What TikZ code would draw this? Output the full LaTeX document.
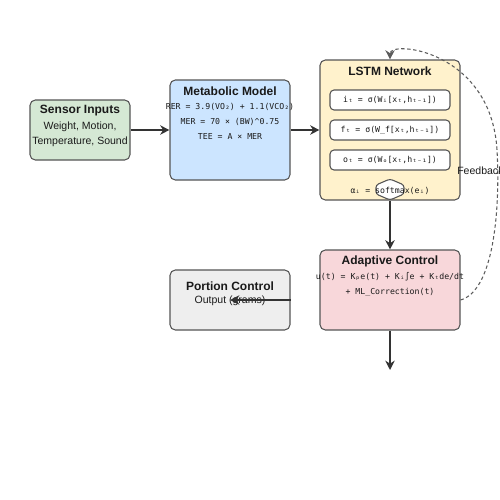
\documentclass[tikz,border=0pt]{standalone}
\usepackage{fontspec}
\setmainfont{Liberation Sans}
\newfontfamily\formfont{DejaVu Sans Mono}
\usetikzlibrary{arrows.meta,calc}

\definecolor{edgegray}{HTML}{555555}
\definecolor{arrowgray}{HTML}{333333}
\definecolor{textdark}{HTML}{1A1A1A}
\definecolor{sensorfill}{HTML}{D5E8D4}
\definecolor{metabfill}{HTML}{CCE5FF}
\definecolor{lstmfill}{HTML}{FFF2CC}
\definecolor{adaptfill}{HTML}{F8D7DA}
\definecolor{portionfill}{HTML}{EEEEEE}

\tikzset{
  block/.style={draw=edgegray, line width=0.8pt, rounded corners=4pt, inner sep=0pt},
  gate/.style={draw=edgegray, line width=0.8pt, fill=white, rounded corners=3pt, inner sep=0pt,
    minimum width=90pt, minimum height=15pt, font=\formfont\fontsize{6.15}{7}\selectfont, text=textdark},
  title/.style={font=\bfseries\fontsize{9}{10}\selectfont, text=textdark, inner sep=0pt},
  body/.style={font=\fontsize{7.9}{8.5}\selectfont, text=textdark, inner sep=0pt},
  formula/.style={font=\formfont\fontsize{6.15}{7}\selectfont, text=textdark, inner sep=0pt},
  flow/.style={->, draw=arrowgray, line width=1.1pt}
}

\begin{document}
\begin{tikzpicture}[x=0.75pt, y=-0.75pt, >={Stealth[length=7pt,width=7pt]}]
        \useasboundingbox (0,0) rectangle (500,500);

        % Draw the blocks
        \node[block, fill=sensorfill, minimum width=75pt, minimum height=45pt] (sensor) at (80,130) {};
        \node[block, fill=metabfill, minimum width=90pt, minimum height=75pt] (metab) at (230,130) {};
        \node[block, fill=lstmfill, minimum width=105pt, minimum height=105pt] (lstm) at (390,130) {};
        \node[block, fill=adaptfill, minimum width=105pt, minimum height=60pt] (adapt) at (390,290) {};
        \node[block, fill=portionfill, minimum width=90pt, minimum height=45pt] (portion) at (230,300) {};

        % Sensor text
        \node[title] (sensortitle) at (80,111) {Sensor Inputs};
        \node[body] (sensorone) at (80,127) {Weight, Motion,};
        \node[body] (sensortwo) at (80,142) {Temperature, Sound};

        % Metabolic text
        \node[title] (metabtitle) at (230,91) {Metabolic Model};
        \node[formula] (rer) at (230,107) {RER = 3.9(VO₂) + 1.1(VCO₂)};
        \node[formula] (mer) at (230,122) {MER = 70 × (BW)\^{}0.75};
        \node[formula] (tee) at (230,137) {TEE = A × MER};

        % LSTM text and gates
        \node[title] (lstmtitle) at (390,71) {LSTM Network};
        \node[gate] (igate) at (390,100) {iₜ = σ(Wᵢ[xₜ,hₜ₋₁])};
        \node[gate] (fgate) at (390,130) {fₜ = σ(W\_f[xₜ,hₜ₋₁])};
        \node[gate] (ogate) at (390,160) {oₜ = σ(Wₒ[xₜ,hₜ₋₁])};
        \draw[draw=edgegray, line width=0.8pt, fill=white, rounded corners=2pt]
          (390,179) -- (404,185) -- (404,194) -- (390,200) -- (376,194) -- (376,185) -- cycle;
        \node[formula] (attn) at (390,191) {αᵢ = softmax(eᵢ)};

        % Adaptive text
        \node[title] (adapttitle) at (390,261) {Adaptive Control};
        \node[formula] (uone) at (390,277) {u(t) = Kₚe(t) + Kᵢ∫e + Kₜde/dt};
        \node[formula] (utwo) at (390,292) {+ ML\_Correction(t)};

        % Portion text
        \node[title] (portiontitle) at (230,286) {Portion Control};
        \node[body] (portionout) at (230,301) {Output (grams)};

        % Draw the arrows
        \coordinate (outend) at (390,370);
        \draw[flow] (sensor.east) -- (metab.west);
        \draw[flow] (metab.east) -- (lstm.west);
        \draw[flow] (lstm.south) -- (adapt.north);
        \draw[flow] (adapt.south) -- (outend);
        \draw[flow] (portion.east) -- (portion.center);

        % Feedback loop
        \draw[->, draw=arrowgray!80, line width=0.8pt, dash pattern=on 2.5pt off 2pt]
          ($(adapt.east)+(0,10)$) .. controls (496,290) and (500,200) .. (497,150)
          .. controls (491,50) and (390,40) .. (lstm.north);
        \node[body, anchor=west] (fblabel) at (457,171) {Feedback};
    \end{tikzpicture}
\end{document}
